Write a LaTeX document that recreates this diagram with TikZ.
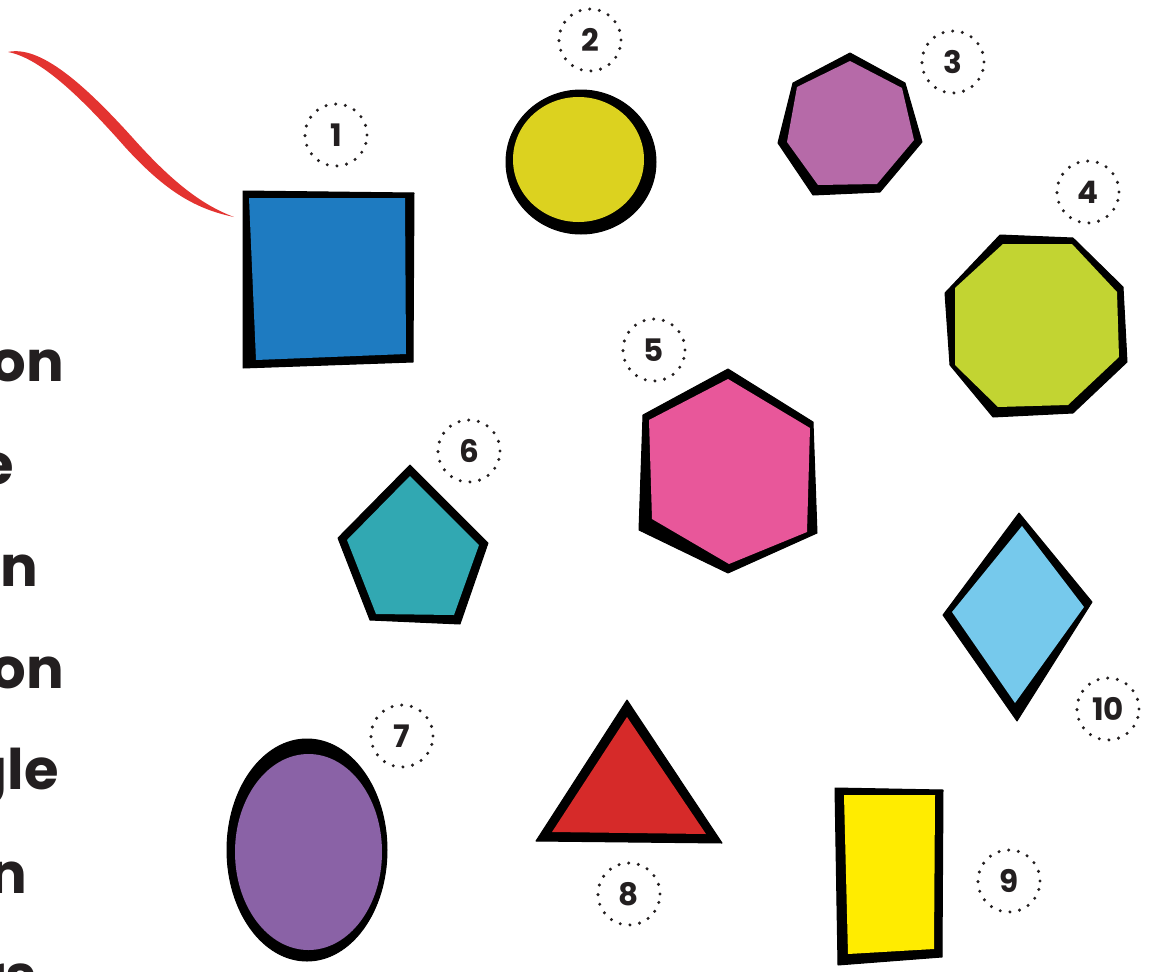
\documentclass[tikz,border=0pt]{standalone}
\usepackage{fontspec}
\setmainfont{Poppins}
\newfontfamily\popb{Poppins}[UprightFont=* Bold]
\definecolor{cblue}{HTML}{1E7BC1}
\definecolor{cyel}{HTML}{DCD21F}
\definecolor{chept}{HTML}{B66AA8}
\definecolor{coct}{HTML}{C2D432}
\definecolor{chex}{HTML}{E8579A}
\definecolor{cpent}{HTML}{31A8B2}
\definecolor{cell}{HTML}{8A62A6}
\definecolor{ctri}{HTML}{D62A29}
\definecolor{crect}{HTML}{FFEC00}
\definecolor{cdia}{HTML}{76C9EC}
\definecolor{cred}{HTML}{E33330}
\definecolor{ink}{HTML}{231F20}
\tikzset{
  outer/.style={fill=black, draw=black, line width=1pt, line join=round},
  numlbl/.style={circle, minimum size=62pt, inner sep=0pt, draw=ink,
    line width=3.4pt, line cap=round, dash pattern=on 0pt off 9.8pt,
    font=\popb\fontsize{31}{31}\selectfont, text=ink},
  frag/.style={anchor=base east, inner sep=0pt, text=ink,
    font=\popb\fontsize{56}{56}\selectfont}
}
\begin{document}
\begin{tikzpicture}[x=1pt, y=-1pt]
\useasboundingbox (0,0) rectangle (1152,972);
\clip (0,0) rectangle (1152,972);
% left cut-off words
\node[frag] (t1) at (64,381) {on};
\node[frag] (t2) at (14,484) {e};
\node[frag] (t3) at (38,586) {on};
\node[frag] (t4) at (64,688) {on};
\node[frag] (t5) at (59,789) {gle};
\node[frag] (t6) at (27,893) {n};
\node[frag] (t7) at (37,995) {rs};
% red curve
\fill[cred] (8,52) .. controls (40,45) and (84,84) .. (132,137)
  .. controls (172,182) and (202,205) .. (234,217)
  .. controls (196,209) and (166,192) .. (125,147)
  .. controls (80,96) and (40,58) .. (8,52) -- cycle;
% 1 square
\filldraw[outer] (243,191) -- (414,193) -- (413,362) -- (243,368) -- cycle;
\fill[cblue] (249,198) -- (405,198) -- (406,354) -- (256,360) -- cycle;
% 2 circle
\filldraw[outer] (581,162) ellipse [x radius=75, y radius=72];
\fill[cyel] (578.5,159.5) ellipse [x radius=65.5, y radius=62.5];
% 3 heptagon
\filldraw[outer] (850,53) -- (905,83) -- (922,142) -- (880,192) -- (813,195) -- (778,143) -- (793,83) -- cycle;
\fill[chept] (850,61) -- (902,88) -- (914,140) -- (877,184) -- (818,185) -- (787,142) -- (797,87) -- cycle;
% 4 octagon
\filldraw[outer] (1000,235) -- (1073,238) -- (1123,287) -- (1127,362) -- (1073,413) -- (993,417) -- (950,365) -- (945,293) -- cycle;
\fill[coct] (1003,244) -- (1072,244) -- (1117,292) -- (1119,357) -- (1068,405) -- (998,407) -- (955,365) -- (955,288) -- cycle;
% 5 hexagon
\filldraw[outer] (728,369) -- (813,422) -- (817,533) -- (728,573) -- (639,530) -- (643,415) -- cycle;
\fill[chex] (728,379) -- (810,428) -- (807,532) -- (729,564) -- (652,519) -- (649,420) -- cycle;
% 6 pentagon
\filldraw[outer] (410,465) -- (488,543) -- (460,624) -- (370,620) -- (338,538) -- cycle;
\fill[cpent] (410,476) -- (479,545) -- (454,615) -- (376,614) -- (347,540) -- cycle;
% 7 ellipse
\filldraw[outer] (307,850) ellipse [x radius=80, y radius=111];
\fill[cell] (308.5,852) ellipse [x radius=73.5, y radius=98];
% 8 triangle
\filldraw[outer] (627,700) -- (722,843) -- (536,841) -- cycle;
\fill[ctri] (627,717) -- (706,834) -- (552,832) -- cycle;
% 9 rectangle
\filldraw[outer] (835,788) -- (943,790) -- (942,957) -- (838,965) -- cycle;
\fill[crect] (844,795) -- (935,795) -- (934,949) -- (848,954) -- cycle;
% 10 diamond
\filldraw[outer] (1019,513) -- (1092,602) -- (1017,721) -- (943,615) -- cycle;
\fill[cdia] (1022,526) -- (1084,607) -- (1015,703) -- (952,612) -- cycle;
% number labels
\node[numlbl] (n1) at (336,135) {1};
\node[numlbl] (n2) at (590,40) {2};
\node[numlbl] (n3) at (953,62) {3};
\node[numlbl] (n4) at (1088,192) {4};
\node[numlbl] (n5) at (654,350) {5};
\node[numlbl] (n6) at (469,451) {6};
\node[numlbl] (n7) at (402,736) {7};
\node[numlbl] (n8) at (629,894) {8};
\node[numlbl] (n9) at (1009,881) {9};
\node[numlbl] (n10) at (1108,709) {10};
\end{tikzpicture}
\end{document}
